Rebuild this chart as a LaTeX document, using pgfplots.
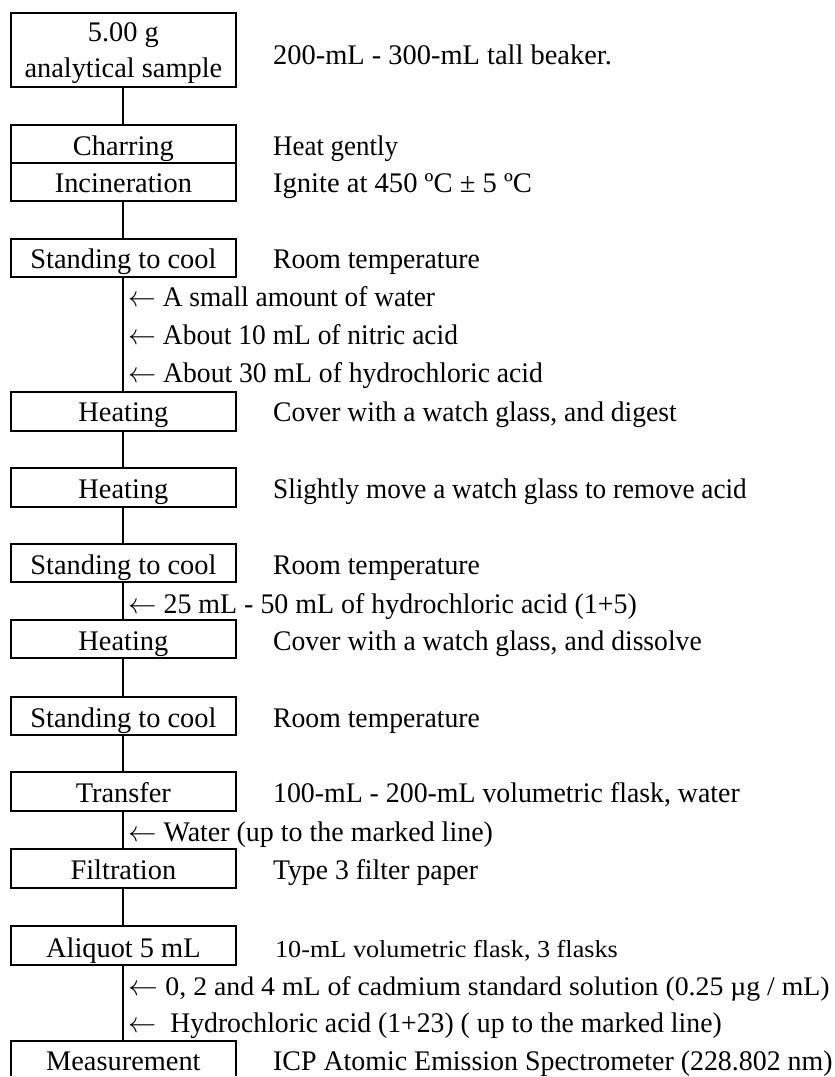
\documentclass[border=0pt]{standalone}
\usepackage{pgfplots}
\pgfplotsset{compat=1.18}
\usepackage{graphicx}
\usepackage{fontspec}
\setmainfont{Liberation Serif}

% one step box: top, bottom, label baseline, label
\newcommand{\stepbox}[4]{%
  \addplot[black, line width=1pt, fill=white] coordinates {(11,#1) (236,#1) (236,#2) (11,#2)} -- cycle;
  \node[anchor=base, inner sep=0pt] at (axis cs:123.5,#3) {#4};
}
% right hand note: baseline, width, text
\newcommand{\note}[3]{\node[anchor=base west, inner sep=0pt] at (axis cs:273,#1) {\resizebox{#2}{\height}{#3}};}
% reagent added on the way down: baseline, width, text
\newcommand{\addin}[3]{\node[anchor=base west, inner sep=0pt] at (axis cs:128,#1) {\resizebox{#2}{\height}{$\leftarrow$ #3}};}

\begin{document}
\fontsize{14.2}{17}\selectfont
\begin{tikzpicture}
\begin{axis}[
    width=417.5pt, height=538.5pt, scale only axis,
    xmin=0, xmax=835, ymin=0, ymax=1077,
    y dir=reverse,
    hide axis,
    clip=false,
  ]
  % keeps the page the size of the axis
  \addplot[draw=none] coordinates {(0,0) (835,1077)};
  % main line
  \addplot[black, line width=1pt] coordinates {(123.5,87) (123.5,1042)};

  \addplot[black, line width=1pt, fill=white] coordinates {(11,13) (236,13) (236,87) (11,87)} -- cycle;
  \node[anchor=base, inner sep=0pt] at (axis cs:123.5,42) {5.00 g};
  \node[anchor=base, inner sep=0pt] at (axis cs:123.5,78) {analytical sample};
  \note{65}{169.5pt}{200-mL - 300-mL tall beaker.}

  \addplot[black, line width=1pt, fill=white] coordinates {(11,125) (236,125) (236,201) (11,201)} -- cycle;
  \addplot[black, line width=1pt] coordinates {(11,163) (236,163)};
  \node[anchor=base, inner sep=0pt] at (axis cs:123.5,156) {Charring};
  \node[anchor=base, inner sep=0pt] at (axis cs:123.5,193) {Incineration};
  \note{156}{62.5pt}{Heat gently}
  \note{193}{129.5pt}{Ignite at 450 ºC ± 5 ºC}

  \stepbox{239}{277}{269}{Standing to cool}
  \note{269}{103.5pt}{Room temperature}
  \addin{307}{153.5pt}{A small amount of water}
  \addin{345}{165pt}{About 10 mL of nitric acid}
  \addin{383}{207.5pt}{About 30 mL of hydrochloric acid}

  \stepbox{392}{431}{422}{Heating}
  \note{422}{202pt}{Cover with a watch glass, and digest}

  \stepbox{468}{507}{499}{Heating}
  \note{499}{237pt}{Slightly move a watch glass to remove acid}

  \stepbox{544}{583}{575}{Standing to cool}
  \note{575}{103.5pt}{Room temperature}
  \addin{614}{254.5pt}{25 mL - 50 mL of hydrochloric acid (1+5)}

  \stepbox{621}{659}{651}{Heating}
  \note{651}{214.5pt}{Cover with a watch glass, and dissolve}

  \stepbox{698}{736}{728}{Standing to cool}
  \note{728}{103.5pt}{Room temperature}

  \stepbox{773}{812}{803}{Transfer}
  \note{803}{233.5pt}{100-mL - 200-mL volumetric flask, water}
  \addin{842}{182.5pt}{Water (up to the marked line)}

  \stepbox{850}{889}{880}{Filtration}
  \note{880}{102.5pt}{Type 3 filter paper}

  \stepbox{927}{966}{958}{Aliquot 5 mL}
  \node[anchor=base west, inner sep=0pt] at (axis cs:275,958)
    {\resizebox{171.5pt}{\height}{\fontsize{12.2}{14}\selectfont 10-mL volumetric flask, 3 flasks}};
  \addin{996}{351pt}{{\fontsize{13.4}{16}\selectfont 0, 2 and 4 mL of cadmium standard solution (0.25 µg / mL)}}
  \addin{1033}{297pt}{\ Hydrochloric acid (1+23) ( up to the marked line)}

  \addplot[black, line width=1pt, fill=white] coordinates {(11,1077) (11,1042) (236,1042) (236,1077)};
  \node[anchor=base, inner sep=0pt] at (axis cs:123.5,1071) {Measurement};
  \note{1071}{280pt}{ICP Atomic Emission Spectrometer (228.802 nm)}
\end{axis}
\end{tikzpicture}
\end{document}
